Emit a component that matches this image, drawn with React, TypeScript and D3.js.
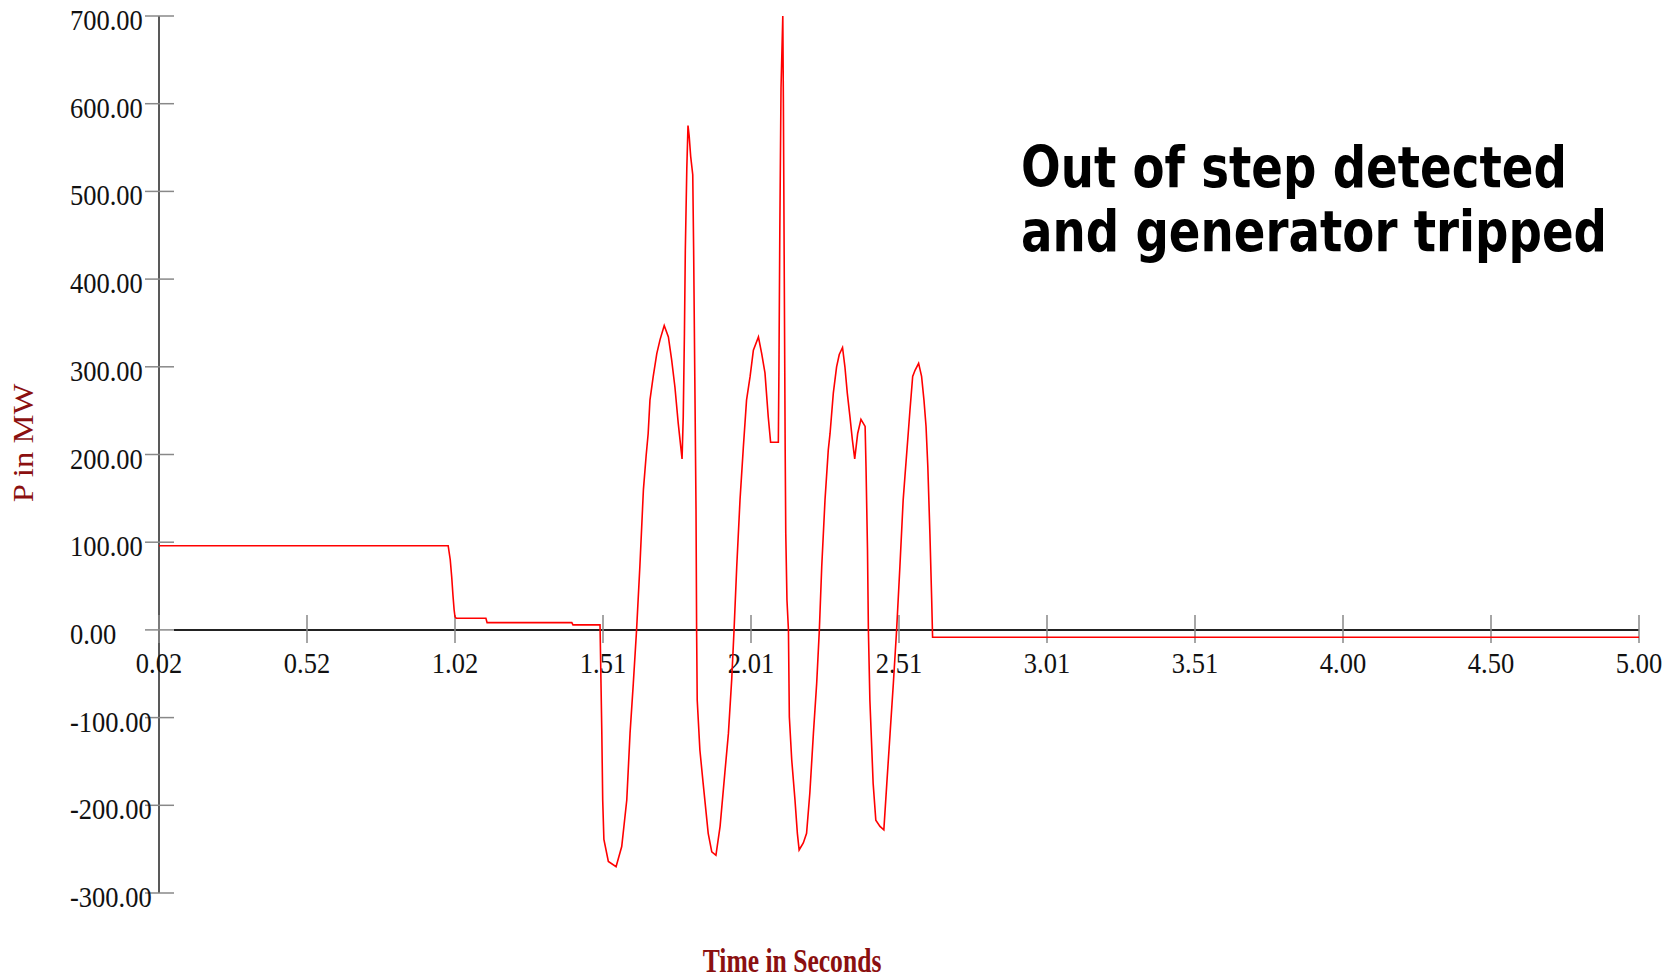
import * as d3 from 'd3'

// time (s) and active power (MW)
const timeS = [
  0.02, 0.993, 1.0, 1.005, 1.009, 1.013, 1.016, 1.02, 1.12, 1.124, 1.409, 1.413, 1.504,
  1.51, 1.513, 1.517, 1.532, 1.558, 1.577, 1.594, 1.605, 1.616, 1.627, 1.638, 1.65,
  1.659, 1.666, 1.672, 1.683, 1.695, 1.706, 1.72, 1.734, 1.745, 1.756, 1.767, 1.78,
  1.784, 1.788, 1.791, 1.796, 1.8, 1.804, 1.809, 1.816, 1.819, 1.823, 1.827, 1.829,
  1.831, 1.84, 1.851, 1.868, 1.88, 1.894, 1.908, 1.924, 1.936, 1.947, 1.955, 1.964,
  1.975, 1.986, 1.997, 2.009, 2.02, 2.037, 2.048, 2.059, 2.07, 2.078, 2.104, 2.106,
  2.109, 2.113, 2.119, 2.121, 2.124, 2.127, 2.129, 2.133, 2.138, 2.141, 2.149, 2.16,
  2.168, 2.174, 2.188, 2.199, 2.21, 2.222, 2.233, 2.242, 2.25, 2.261, 2.272, 2.278,
  2.289, 2.3, 2.309, 2.32, 2.328, 2.336, 2.345, 2.353, 2.361, 2.371, 2.382, 2.396,
  2.399, 2.404, 2.407, 2.412, 2.423, 2.432, 2.446, 2.459, 2.469, 2.48, 2.491, 2.502,
  2.513, 2.524, 2.53, 2.541, 2.547, 2.556, 2.564, 2.576, 2.586, 2.594, 2.601, 2.607,
  2.614, 2.62, 2.623, 5.0,
]
const powerMW = [
  96, 96, 80, 60, 40, 23, 15, 13.3, 13.3, 8.3, 8.3, 5.7, 5.7,
  -117, -194, -239, -264, -270, -247, -194, -118, -61, 0, 72, 160,
  198, 224, 262, 289, 315, 331, 347, 334, 308, 277, 236, 195,
  243, 338, 433, 526, 575, 563, 540, 519, 433, 285, 137, 0,
  -80, -137, -175, -232, -253, -257, -224, -163, -118, -57, 0, 72,
  148, 207, 262, 289, 319, 334, 315, 293, 243, 214, 214, 296,
  456, 618, 700, 600, 401, 205, 110, 34, 0, -99, -148, -194,
  -232, -251, -243, -232, -186, -118, -61, 0, 72, 148, 205, 224,
  270, 300, 314, 322, 300, 270, 243, 217, 195, 224, 240, 232,
  186, 91, 0, -80, -175, -217, -224, -228, -175, -118, -61, 0,
  72, 148, 175, 224, 251, 289, 296, 304, 289, 262, 232, 186,
  110, 34, -8.3, -8.3,
]

const xTickValues = [0.02, 0.518, 1.016, 1.514, 2.012, 2.51, 3.008, 3.506, 4.004, 4.502, 5.0]
const yTickValues = [-300, -200, -100, 0, 100, 200, 300, 400, 500, 600, 700]
const noteLines = ['Out of step detected', 'and generator tripped']

const W = 1672
const H = 980
const serif = '"Liberation Serif", "Times New Roman", serif'
const stretch = 1.15 // the source picture is a bit taller than it is wide

// plain hyphen for negatives, like the original
const fmt = d3.formatLocale({ decimal: '.', thousands: ',', grouping: [3], currency: ['', ''], minus: '-' }).format('.2f')

export default function App() {
  const x = d3.scaleLinear().domain([0.02, 5.0]).range([159, 1639])
  const y = d3.scaleLinear().domain([-300, 700]).range([893, 16])

  const pts = timeS.map((t, i) => [t, powerMW[i]] as [number, number])
  const line = d3.line<[number, number]>()
    .x(d => x(d[0]))
    .y(d => y(d[1]))

  const x0 = x(0.02)
  const y0 = y(0)

  return (
    <svg width={W} height={H} style={{ position: 'absolute', left: 0, top: 0, background: '#fff' }}>
      {/* y axis */}
      <line x1={x0} x2={x0} y1={y(700)} y2={y(-300)} stroke="#222" strokeWidth={1.5} />
      {yTickValues.map(v => (
        <g key={v}>
          <line x1={x0 - 14} x2={x0 + 15} y1={y(v)} y2={y(v)} stroke="#888" strokeWidth={1.5} />
          <g transform={`translate(70, ${y(v) + 14}) scale(1, ${stretch})`}>
            <text fontFamily={serif} fontSize={26.5} fill="#111">{fmt(v)}</text>
          </g>
        </g>
      ))}

      {/* x axis */}
      <line x1={x0 + 15} x2={x(5.0)} y1={y0} y2={y0} stroke="#222" strokeWidth={2} />
      {xTickValues.map(t => (
        <g key={t}>
          <line x1={x(t)} x2={x(t)} y1={y0 - 15} y2={y0 + 13} stroke="#888" strokeWidth={1.5} />
          <g transform={`translate(${x(t)}, ${y0 + 43}) scale(1, ${stretch})`}>
            <text fontFamily={serif} fontSize={26.5} fill="#111" textAnchor="middle">{fmt(t)}</text>
          </g>
        </g>
      ))}

      {/* trace */}
      <path d={line(pts) ?? ''} fill="none" stroke="#ff0000" strokeWidth={1.6} />

      {/* axis titles */}
      <g transform={`translate(33, 443) scale(1, ${stretch}) rotate(-90)`}>
        <text fontFamily={serif} fontSize={28.4} fill="#8b1010" textAnchor="middle">P in MW</text>
      </g>
      <g transform={`translate(792, 972) scale(1, 1.3)`}>
        <text fontFamily={serif} fontSize={25.6} fontWeight="bold" fill="#8b1010" textAnchor="middle">
          Time in Seconds
        </text>
      </g>

      {/* note */}
      {noteLines.map((s, i) => (
        <g key={s} transform={`translate(1021, ${187 + i * 64}) scale(1, 1.2)`}>
          <text fontFamily='"DejaVu Sans", Verdana, sans-serif' fontWeight="bold" fontSize={46.7} fill="#000">
            {s}
          </text>
        </g>
      ))}
    </svg>
  )
}
